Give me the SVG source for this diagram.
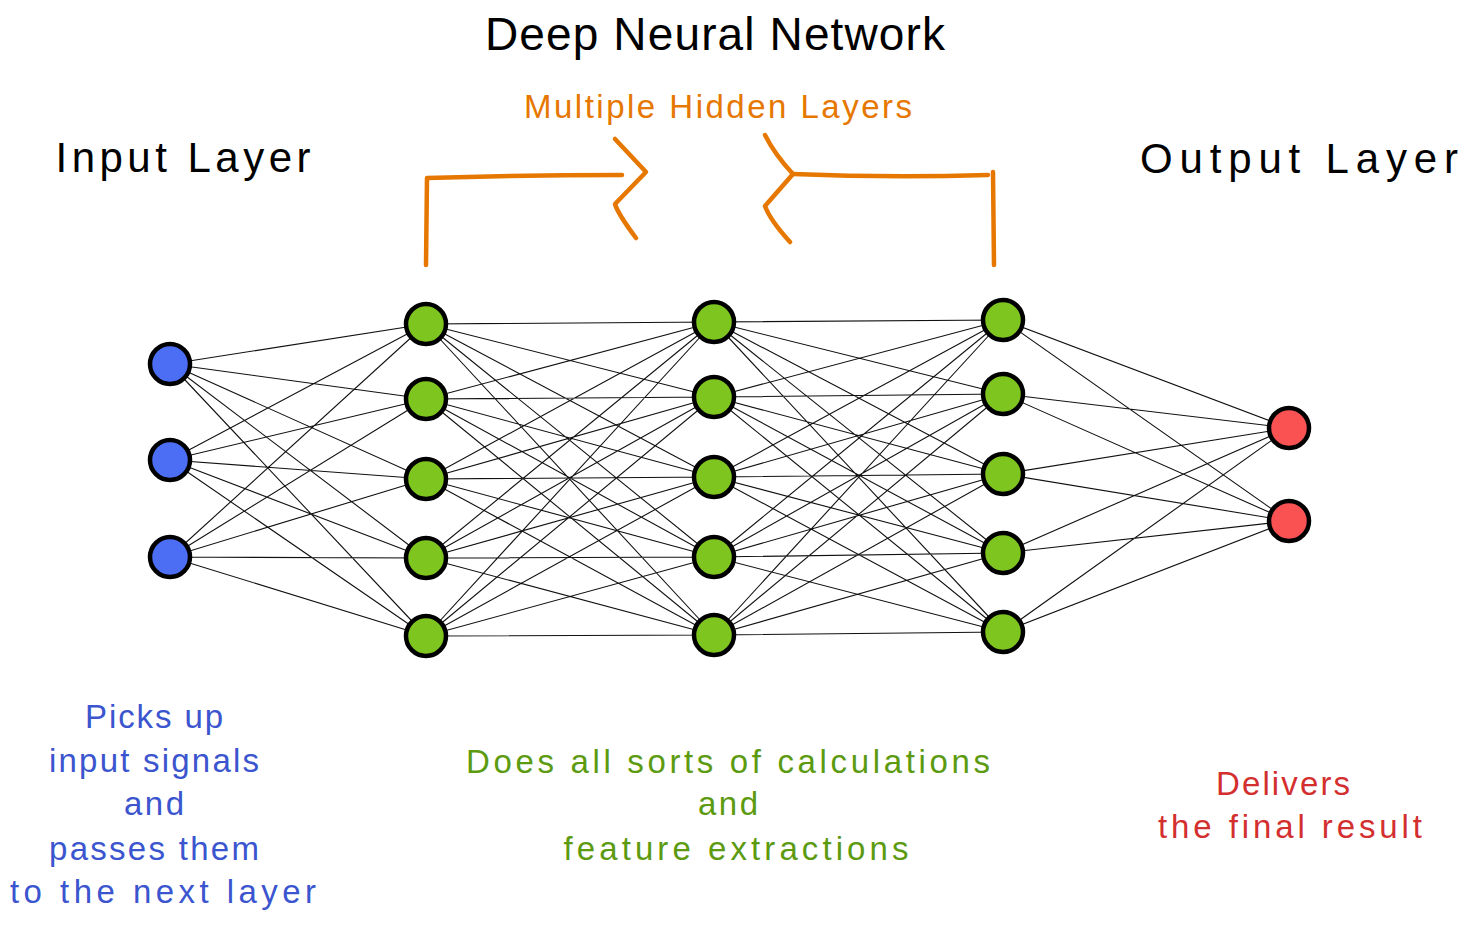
<svg xmlns="http://www.w3.org/2000/svg" width="1468" height="926" viewBox="0 0 1468 926">
<style>
.e{stroke:#111;stroke-width:1.1;fill:none}
.n{stroke:#000;stroke-width:4.5}
.in{fill:#4c6ef5}.hd{fill:#7ec51f}.out{fill:#fa5252}
.t{font-family:"Liberation Sans","DejaVu Sans",sans-serif;text-anchor:middle}
.br{stroke:#e67700;stroke-width:4.5;fill:none;stroke-linecap:round;stroke-linejoin:round}
</style>
<rect width="1468" height="926" fill="#fff"/>
<g id="connectors">
<path class="e" d="M170 364L426 324M170 364L426 399M170 364L426 479M170 364L426 558M170 364L426 636M170 460L426 324M170 460L426 399M170 460L426 479M170 460L426 558M170 460L426 636M170 557L426 324M170 557L426 399M170 557L426 479M170 557L426 558M170 557L426 636"/>
<path class="e" d="M426 324L714 322M426 324L714 397M426 324L714 477M426 324L714 557M426 324L714 635M426 399L714 322M426 399L714 397M426 399L714 477M426 399L714 557M426 399L714 635M426 479L714 322M426 479L714 397M426 479L714 477M426 479L714 557M426 479L714 635M426 558L714 322M426 558L714 397M426 558L714 477M426 558L714 557M426 558L714 635M426 636L714 322M426 636L714 397M426 636L714 477M426 636L714 557M426 636L714 635"/>
<path class="e" d="M714 322L1003 320M714 322L1003 394M714 322L1003 474M714 322L1003 553M714 322L1003 632M714 397L1003 320M714 397L1003 394M714 397L1003 474M714 397L1003 553M714 397L1003 632M714 477L1003 320M714 477L1003 394M714 477L1003 474M714 477L1003 553M714 477L1003 632M714 557L1003 320M714 557L1003 394M714 557L1003 474M714 557L1003 553M714 557L1003 632M714 635L1003 320M714 635L1003 394M714 635L1003 474M714 635L1003 553M714 635L1003 632"/>
<path class="e" d="M1003 320L1289 428M1003 320L1289 521M1003 394L1289 428M1003 394L1289 521M1003 474L1289 428M1003 474L1289 521M1003 553L1289 428M1003 553L1289 521M1003 632L1289 428M1003 632L1289 521"/>
</g>
<g id="input-layer">
<circle class="n in" cx="170" cy="364" r="20"/>
<circle class="n in" cx="170" cy="460" r="20"/>
<circle class="n in" cx="170" cy="557" r="20"/>
</g>
<g id="hidden-1">
<circle class="n hd" cx="426" cy="324" r="20"/>
<circle class="n hd" cx="426" cy="399" r="20"/>
<circle class="n hd" cx="426" cy="479" r="20"/>
<circle class="n hd" cx="426" cy="558" r="20"/>
<circle class="n hd" cx="426" cy="636" r="20"/>
</g>
<g id="hidden-2">
<circle class="n hd" cx="714" cy="322" r="20"/>
<circle class="n hd" cx="714" cy="397" r="20"/>
<circle class="n hd" cx="714" cy="477" r="20"/>
<circle class="n hd" cx="714" cy="557" r="20"/>
<circle class="n hd" cx="714" cy="635" r="20"/>
</g>
<g id="hidden-3">
<circle class="n hd" cx="1003" cy="320" r="20"/>
<circle class="n hd" cx="1003" cy="394" r="20"/>
<circle class="n hd" cx="1003" cy="474" r="20"/>
<circle class="n hd" cx="1003" cy="553" r="20"/>
<circle class="n hd" cx="1003" cy="632" r="20"/>
</g>
<g id="output-layer">
<circle class="n out" cx="1289" cy="428" r="20"/>
<circle class="n out" cx="1289" cy="521" r="20"/>
</g>
<g id="hidden-bracket">
<path class="br" d="M426 265L427 178Q520 175 622 175"/>
<path class="br" d="M615 139L646 172L615 204Q618 214 636 238"/>
<path class="br" d="M765 135Q775 155 793 174L765 206Q770 220 790 242"/>
<path class="br" d="M793 174Q890 178 988 175M993 172L994 265"/>
</g>
<g id="titles">
<text class="t" x="715" y="50" font-size="46" fill="#000" textLength="460">Deep Neural Network</text>
<text class="t" x="718" y="118" font-size="33" fill="#e67700" textLength="388">Multiple Hidden Layers</text>
<text class="t" x="183" y="172" font-size="42" fill="#000" textLength="255">Input Layer</text>
<text class="t" x="1299" y="173" font-size="42" fill="#000" textLength="318">Output Layer</text>
</g>
<g id="input-desc" fill="#3b55cf">
<text class="t" x="154" y="728" font-size="33" textLength="138">Picks up</text>
<text class="t" x="154" y="772" font-size="33" textLength="210">input signals</text>
<text class="t" x="154" y="815" font-size="33" textLength="60">and</text>
<text class="t" x="154" y="860" font-size="33" textLength="210">passes them</text>
<text class="t" x="163" y="903" font-size="33" textLength="306">to the next layer</text>
</g>
<g id="hidden-desc" fill="#5c9a10">
<text class="t" x="728" y="773" font-size="33" textLength="524">Does all sorts of calculations</text>
<text class="t" x="728" y="815" font-size="33" textLength="60">and</text>
<text class="t" x="736" y="860" font-size="33" textLength="345">feature extractions</text>
</g>
<g id="output-desc" fill="#d32f2f">
<text class="t" x="1283" y="795" font-size="33" textLength="134">Delivers</text>
<text class="t" x="1290" y="838" font-size="33" textLength="264">the final result</text>
</g>
</svg>
